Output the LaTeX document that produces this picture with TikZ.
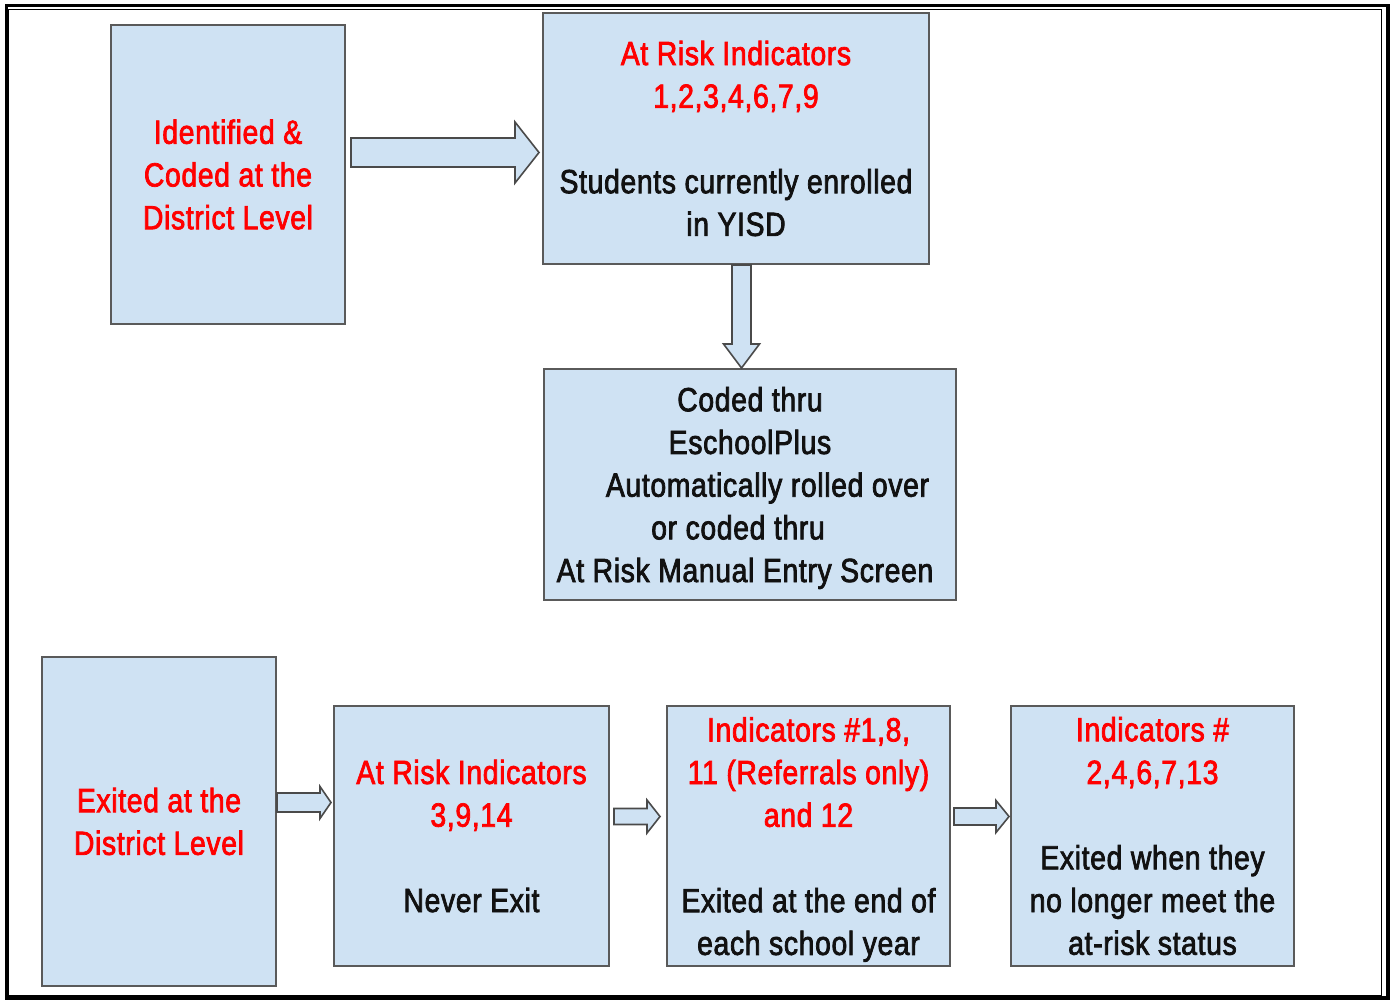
\documentclass[tikz,border=0pt]{standalone}
\usepackage{fontspec}
\setmainfont[FakeStretch=0.845,FakeBold=2.2,LetterSpace=2]{Liberation Sans}
\usetikzlibrary{calc}
\definecolor{boxfill}{HTML}{CFE2F3}
\definecolor{boxline}{HTML}{5A5A5A}
\definecolor{arrline}{HTML}{4A4A4A}
\definecolor{txtred}{HTML}{FF0000}
\definecolor{txtdark}{HTML}{111111}
\newcommand\redtxt[1]{\textcolor{txtred}{#1}}
\newcommand\blkarrowh[5]{%
  \draw[arrowbox] let \p1=(#1), \p2=(#2) in
    (\x1,\y1+#3) -- (\x2-#5,\y1+#3) -- (\x2-#5,\y1+#4) -- (\x2,\y1)
    -- (\x2-#5,\y1-#4) -- (\x2-#5,\y1-#3) -- (\x1,\y1-#3) -- cycle;}
\newcommand\blkarrowv[5]{%
  \draw[arrowbox] let \p1=(#1), \p2=(#2) in
    (\x1-#3,\y1) -- (\x1-#3,\y2+#5) -- (\x1-#4,\y2+#5) -- (\x1,\y2)
    -- (\x1+#4,\y2+#5) -- (\x1+#3,\y2+#5) -- (\x1+#3,\y1) -- cycle;}
\tikzset{
  box/.style={draw=boxline, line width=2pt, fill=boxfill, align=center,
    inner sep=0pt, text=txtdark,
    font=\fontsize{33.5}{42.7}\selectfont},
  arrowbox/.style={draw=arrline, line width=1.6pt, fill=boxfill, line join=miter},
}
\begin{document}
\begin{tikzpicture}[x=1pt,y=-1pt]
\useasboundingbox (0,0) rectangle (1394,1002);
\fill[white] (0,0) rectangle (1394,1002);
% frame
\draw[black, line width=3.5pt] (6.5,5.5) rectangle (1388,998);
\draw[black, line width=1.5pt] (8,9.5) rectangle (1381.5,996);

% boxes
\node[box, minimum width=234pt, minimum height=299pt] (A) at (228,174.5)
  {\redtxt{Identified \&}\\\redtxt{Coded at the}\\\redtxt{District Level}};
\node[box, minimum width=386pt, minimum height=251pt] (B) at (736,138.5)
  {\redtxt{At Risk Indicators}\\\redtxt{1,2,3,4,6,7,9}\\[42.7pt]Students currently enrolled\\in YISD};
\node[box, minimum width=412pt, minimum height=231pt, text depth=-8pt] (C) at (750,484.5)
  {Coded thru\\EschoolPlus\\\hspace*{35pt}Automatically rolled over\\or coded thru\hspace*{24pt}\mbox{}\\At Risk Manual Entry Screen\hspace*{10pt}\mbox{}};
\node[box, minimum width=234pt, minimum height=329pt] (D) at (159,821.5)
  {\redtxt{Exited at the}\\\redtxt{District Level}};
\node[box, minimum width=275pt, minimum height=260pt] (E) at (471.5,836)
  {\redtxt{At Risk Indicators}\\\redtxt{3,9,14}\\[42.7pt]Never Exit};
\node[box, minimum width=283pt, minimum height=260pt, text depth=-6pt] (F) at (808.5,836)
  {\redtxt{Indicators \#1,8,}\\\redtxt{11 (Referrals only)}\\\redtxt{and 12}\\[42.7pt]Exited at the end of\\each school year};
\node[box, minimum width=283pt, minimum height=260pt] (G) at (1152.5,836)
  {\redtxt{Indicators \#}\\\redtxt{2,4,6,7,13}\\[42.7pt]Exited when they\\no longer meet the\\at-risk status};

% connector levels
\coordinate (yAB) at (0,152.5);
\coordinate (xBC) at (741.5,0);
\coordinate (yDE) at (0,802.5);
\coordinate (yEF) at (0,816.5);

\coordinate (ab1) at ([xshift=5pt]A.east |- yAB);
\coordinate (ab2) at ([xshift=-3pt]B.west |- yAB);
\coordinate (bc1) at (B.south -| xBC);
\coordinate (bc2) at (C.north -| xBC);
\coordinate (de1) at (D.east |- yDE);
\coordinate (de2) at ([xshift=-2pt]E.west |- yDE);
\coordinate (ef1) at ([xshift=4pt]E.east |- yEF);
\coordinate (ef2) at ([xshift=-6pt]F.west |- yEF);
\coordinate (fg1) at ([xshift=3pt]F.east |- yEF);
\coordinate (fg2) at ([xshift=-1pt]G.west |- yEF);

\blkarrowh{ab1}{ab2}{14.5pt}{30.5pt}{24pt}
\blkarrowv{bc1}{bc2}{9.5pt}{18pt}{24pt}
\blkarrowh{de1}{de2}{9.5pt}{16pt}{11pt}
\blkarrowh{ef1}{ef2}{8pt}{16.5pt}{13pt}
\blkarrowh{fg1}{fg2}{8.5pt}{16pt}{13pt}
\end{tikzpicture}
\end{document}
